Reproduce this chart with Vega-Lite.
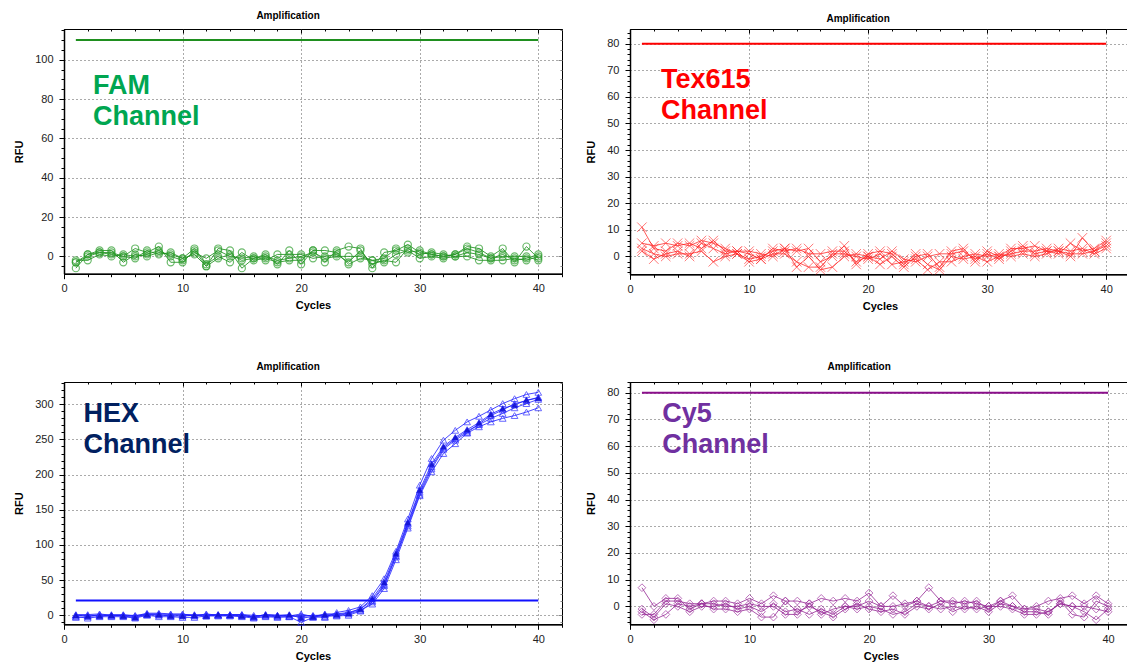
{
  "$schema": "https://vega.github.io/schema/vega-lite/v6.json",
  "padding": {"left": 13, "top": 10, "right": 0, "bottom": 0},
  "spacing": 49,
  "config": {
    "view": {"stroke": "#000", "strokeWidth": 1},
    "font": "Liberation Sans",
    "title": {"font": "Liberation Sans", "fontSize": 10, "fontWeight": "bold", "color": "#000", "offset": 8, "anchor": "middle", "frame": "bounds"},
    "axis": {
      "domainColor": "#000", "domainWidth": 1.5, "tickColor": "#000", "tickWidth": 1,
      "labelFont": "Liberation Sans", "labelColor": "#222", "format": "d",
      "titleFont": "Liberation Sans", "titleFontSize": 11, "titleFontWeight": "bold", "titleColor": "#000",
      "gridColor": "#555", "gridDash": [1, 3], "gridWidth": 1,
      "labelOverlap": false, "labelFlush": false, "labelBound": false
    },
    "axisX": {"labelPadding": 4, "titlePadding": 6},
    "axisY": {"labelPadding": 6, "titlePadding": 10}
  },
  "datasets": {
    "xv": [0,2,4,6,8,10,12,14,16,18,20,22,24,26,28,30,32,34,36,38,40,42],
    "fam": [
      {"c":1,"a":-3,"b":-6,"d":-2,"e":-3},
      {"c":2,"a":0,"b":1,"d":-2,"e":1},
      {"c":3,"a":2,"b":3,"d":1,"e":2},
      {"c":4,"a":2,"b":3,"d":0,"e":1},
      {"c":5,"a":0,"b":-3,"d":1,"e":0},
      {"c":6,"a":4,"b":1,"d":0,"e":-1},
      {"c":7,"a":2,"b":0,"d":1,"e":3},
      {"c":8,"a":5,"b":2,"d":3,"e":1},
      {"c":9,"a":-3,"b":1,"d":0,"e":2},
      {"c":10,"a":-3,"b":-1,"d":-2,"e":-1},
      {"c":11,"a":3,"b":4,"d":2,"e":1},
      {"c":12,"a":-5,"b":-4,"d":-1,"e":-5},
      {"c":13,"a":4,"b":0,"d":3,"e":-1},
      {"c":14,"a":3,"b":-3,"d":0,"e":1},
      {"c":15,"a":-6,"b":2,"d":-1,"e":-2},
      {"c":16,"a":-1,"b":-2,"d":0,"e":-1},
      {"c":17,"a":1,"b":-1,"d":-2,"e":0},
      {"c":18,"a":-4,"b":-3,"d":1,"e":-2},
      {"c":19,"a":3,"b":-2,"d":1,"e":-1},
      {"c":20,"a":-4,"b":-2,"d":1,"e":0},
      {"c":21,"a":3,"b":3,"d":-1,"e":2},
      {"c":22,"a":-3,"b":3,"d":0,"e":-1},
      {"c":23,"a":3,"b":2,"d":1,"e":0},
      {"c":24,"a":5,"b":-4,"d":-3,"e":0},
      {"c":25,"a":4,"b":-1,"d":3,"e":0},
      {"c":26,"a":-6,"b":-2,"d":-4,"e":-2},
      {"c":27,"a":2,"b":-3,"d":-2,"e":-1},
      {"c":28,"a":3,"b":1,"d":-3,"e":4},
      {"c":29,"a":6,"b":3,"d":4,"e":2},
      {"c":30,"a":2,"b":-1,"d":1,"e":3},
      {"c":31,"a":1,"b":0,"d":2,"e":1},
      {"c":32,"a":0,"b":-1,"d":1,"e":0},
      {"c":33,"a":1,"b":0,"d":0,"e":1},
      {"c":34,"a":5,"b":0,"d":2,"e":4},
      {"c":35,"a":4,"b":-2,"d":1,"e":2},
      {"c":36,"a":0,"b":-2,"d":-1,"e":-1},
      {"c":37,"a":4,"b":-2,"d":0,"e":1},
      {"c":38,"a":-3,"b":-1,"d":0,"e":-2},
      {"c":39,"a":5,"b":-2,"d":0,"e":-1},
      {"c":40,"a":-1,"b":0,"d":-2,"e":1}
    ],
    "tex": [
      {"c":1,"a":11,"b":5,"d":3,"e":2},
      {"c":2,"a":3,"b":4,"d":1,"e":-1},
      {"c":3,"a":2,"b":5,"d":0,"e":1},
      {"c":4,"a":5,"b":4,"d":1,"e":2},
      {"c":5,"a":4,"b":5,"d":1,"e":0},
      {"c":6,"a":6,"b":3,"d":2,"e":5},
      {"c":7,"a":5,"b":6,"d":-2,"e":3},
      {"c":8,"a":3,"b":2,"d":0,"e":1},
      {"c":9,"a":1,"b":2,"d":1,"e":2},
      {"c":10,"a":-1,"b":1,"d":-2,"e":2},
      {"c":11,"a":0,"b":-1,"d":-1,"e":1},
      {"c":12,"a":2,"b":3,"d":1,"e":0},
      {"c":13,"a":3,"b":2,"d":1,"e":3},
      {"c":14,"a":2,"b":3,"d":-2,"e":-4},
      {"c":15,"a":3,"b":1,"d":-4,"e":0},
      {"c":16,"a":-2,"b":1,"d":-4,"e":-5},
      {"c":17,"a":0,"b":2,"d":1,"e":-4},
      {"c":18,"a":4,"b":2,"d":1,"e":0},
      {"c":19,"a":-3,"b":-2,"d":0,"e":1},
      {"c":20,"a":1,"b":0,"d":-1,"e":0},
      {"c":21,"a":2,"b":-1,"d":1,"e":-3},
      {"c":22,"a":1,"b":2,"d":-3,"e":0},
      {"c":23,"a":-3,"b":-1,"d":-2,"e":-4},
      {"c":24,"a":1,"b":-2,"d":-1,"e":0},
      {"c":25,"a":-3,"b":0,"d":-5,"e":1},
      {"c":26,"a":-5,"b":1,"d":-2,"e":-4},
      {"c":27,"a":0,"b":1,"d":-2,"e":2},
      {"c":28,"a":-1,"b":2,"d":0,"e":3},
      {"c":29,"a":0,"b":-1,"d":1,"e":-2},
      {"c":30,"a":-2,"b":1,"d":0,"e":2},
      {"c":31,"a":0,"b":-1,"d":1,"e":0},
      {"c":32,"a":1,"b":2,"d":0,"e":3},
      {"c":33,"a":2,"b":4,"d":1,"e":3},
      {"c":34,"a":2,"b":1,"d":0,"e":4},
      {"c":35,"a":3,"b":2,"d":1,"e":2},
      {"c":36,"a":2,"b":1,"d":3,"e":2},
      {"c":37,"a":0,"b":5,"d":2,"e":1},
      {"c":38,"a":7,"b":2,"d":3,"e":1},
      {"c":39,"a":2,"b":3,"d":1,"e":2},
      {"c":40,"a":4,"b":6,"d":3,"e":5}
    ],
    "hex": [
      {"c":1,"a":1,"b":-2,"d":0,"e":-3,"f":0},
      {"c":2,"a":1,"b":-4,"d":0,"e":-2,"f":-1},
      {"c":3,"a":2,"b":-2,"d":0,"e":1,"f":-1},
      {"c":4,"a":0,"b":-2,"d":1,"e":-1,"f":0},
      {"c":5,"a":0,"b":-2,"d":1,"e":0,"f":-1},
      {"c":6,"a":-2,"b":-4,"d":-1,"e":0,"f":-3},
      {"c":7,"a":2,"b":0,"d":3,"e":1,"f":1},
      {"c":8,"a":2,"b":-2,"d":3,"e":0,"f":1},
      {"c":9,"a":1,"b":-2,"d":2,"e":0,"f":-1},
      {"c":10,"a":0,"b":-3,"d":2,"e":1,"f":-1},
      {"c":11,"a":0,"b":-3,"d":-1,"e":1,"f":0},
      {"c":12,"a":1,"b":-1,"d":2,"e":0,"f":-1},
      {"c":13,"a":1,"b":-1,"d":0,"e":0,"f":1},
      {"c":14,"a":1,"b":-1,"d":0,"e":1,"f":0},
      {"c":15,"a":1,"b":-2,"d":0,"e":1,"f":-1},
      {"c":16,"a":-2,"b":-4,"d":-3,"e":0,"f":-2},
      {"c":17,"a":1,"b":-2,"d":0,"e":-1,"f":1},
      {"c":18,"a":0,"b":-3,"d":-1,"e":-2,"f":0},
      {"c":19,"a":-1,"b":-2,"d":0,"e":-2,"f":1},
      {"c":20,"a":2,"b":-10,"d":-2,"e":0,"f":-4},
      {"c":21,"a":-2,"b":-3,"d":0,"e":-1,"f":-2},
      {"c":22,"a":2,"b":-2,"d":0,"e":-3,"f":1},
      {"c":23,"a":2,"b":0,"d":-1,"e":4,"f":1},
      {"c":24,"a":4,"b":2,"d":0,"e":7,"f":3},
      {"c":25,"a":9,"b":7,"d":6,"e":12,"f":9},
      {"c":26,"a":21,"b":16,"d":19,"e":28,"f":24},
      {"c":27,"a":44,"b":38,"d":42,"e":52,"f":47},
      {"c":28,"a":85,"b":79,"d":83,"e":91,"f":88},
      {"c":29,"a":130,"b":124,"d":127,"e":137,"f":132},
      {"c":30,"a":175,"b":170,"d":172,"e":185,"f":178},
      {"c":31,"a":211,"b":204,"d":208,"e":223,"f":215},
      {"c":32,"a":238,"b":230,"d":236,"e":249,"f":240},
      {"c":33,"a":251,"b":244,"d":249,"e":263,"f":253},
      {"c":34,"a":262,"b":259,"d":260,"e":275,"f":264},
      {"c":35,"a":271,"b":268,"d":272,"e":283,"f":274},
      {"c":36,"a":280,"b":275,"d":284,"e":292,"f":286},
      {"c":37,"a":287,"b":280,"d":292,"e":301,"f":294},
      {"c":38,"a":295,"b":284,"d":301,"e":308,"f":299},
      {"c":39,"a":301,"b":289,"d":305,"e":314,"f":306},
      {"c":40,"a":307,"b":295,"d":310,"e":317,"f":309}
    ],
    "cy5": [
      {"c":1,"a":7,"b":-1,"d":-2,"e":-3},
      {"c":2,"a":0,"b":-4,"d":-5,"e":-3},
      {"c":3,"a":3,"b":1,"d":-3,"e":2},
      {"c":4,"a":3,"b":0,"d":1,"e":2},
      {"c":5,"a":-1,"b":-2,"d":0,"e":1},
      {"c":6,"a":1,"b":0,"d":1,"e":1},
      {"c":7,"a":2,"b":0,"d":-1,"e":1},
      {"c":8,"a":2,"b":1,"d":-1,"e":0},
      {"c":9,"a":1,"b":-1,"d":-2,"e":0},
      {"c":10,"a":3,"b":0,"d":-1,"e":1},
      {"c":11,"a":1,"b":-2,"d":-4,"e":0},
      {"c":12,"a":4,"b":1,"d":-4,"e":0},
      {"c":13,"a":2,"b":-2,"d":2,"e":-3},
      {"c":14,"a":2,"b":-1,"d":-2,"e":-3},
      {"c":15,"a":1,"b":-3,"d":0,"e":1},
      {"c":16,"a":3,"b":-1,"d":-2,"e":-3},
      {"c":17,"a":2,"b":-3,"d":-4,"e":-1},
      {"c":18,"a":3,"b":0,"d":-1,"e":0},
      {"c":19,"a":2,"b":-1,"d":1,"e":0},
      {"c":20,"a":5,"b":0,"d":-1,"e":2},
      {"c":21,"a":0,"b":-1,"d":-2,"e":0},
      {"c":22,"a":4,"b":-3,"d":-1,"e":0},
      {"c":23,"a":0,"b":-2,"d":-3,"e":1},
      {"c":24,"a":2,"b":1,"d":0,"e":2},
      {"c":25,"a":7,"b":0,"d":-1,"e":0},
      {"c":26,"a":2,"b":-1,"d":1,"e":2},
      {"c":27,"a":2,"b":0,"d":-2,"e":1},
      {"c":28,"a":1,"b":-1,"d":0,"e":2},
      {"c":29,"a":2,"b":0,"d":-1,"e":1},
      {"c":30,"a":-1,"b":-2,"d":0,"e":0},
      {"c":31,"a":2,"b":1,"d":0,"e":2},
      {"c":32,"a":4,"b":0,"d":-1,"e":0},
      {"c":33,"a":-1,"b":-2,"d":-3,"e":-1},
      {"c":34,"a":0,"b":-2,"d":-3,"e":-1},
      {"c":35,"a":2,"b":-3,"d":-2,"e":-2},
      {"c":36,"a":3,"b":2,"d":1,"e":1},
      {"c":37,"a":4,"b":-3,"d":0,"e":0},
      {"c":38,"a":1,"b":-4,"d":0,"e":-2},
      {"c":39,"a":4,"b":2,"d":-1,"e":-5},
      {"c":40,"a":1,"b":0,"d":-2,"e":-1}
    ],
    "thr": [
      {"ch":"FAM","start":1,"end":40,"t":110},
      {"ch":"Tex615","start":1,"end":40,"t":80},
      {"ch":"HEX","start":1,"end":40,"t":21},
      {"ch":"Cy5","start":1,"end":40,"t":80}
    ],
    "lab": [
      {"ch":"FAM","lines":["FAM","Channel"]},
      {"ch":"Tex615","lines":["Tex615","Channel"]},
      {"ch":"HEX","lines":["HEX","Channel"]},
      {"ch":"Cy5","lines":["Cy5","Channel"]}
    ]
  },
  "vconcat": [
    {
      "spacing": 22,
      "hconcat": [
        {
          "width": 498, "height": 244.7,
          "title": {"text": "Amplification", "offset": 8},
          "resolve": {"axis": {"x": "independent", "y": "independent"}},
          "layer": [
            {
              "data": {"name": "fam"},
              "transform": [{"fold": ["a","b","d","e"], "as": ["s","rfu"]}],
              "mark": {"type": "line", "color": "#1f8f1f", "strokeWidth": 1, "opacity": 0.85,
                       "point": {"shape": "circle", "filled": false, "size": 50, "strokeWidth": 1.2, "color": "#2e9e2e", "opacity": 0.7}},
              "encoding": {
                "x": {"field": "c", "type": "quantitative", "title": "Cycles",
                      "scale": {"domain": [0, 42], "nice": false, "zero": false},
                      "axis": {"values": [0,2,4,6,8,10,12,14,16,18,20,22,24,26,28,30,32,34,36,38,40,42], "tickCount": 100,
                               "labelExpr": "datum.value % 10 === 0 && datum.value <= 40 ? datum.label : ''",
                               "labelFontSize": {"condition": {"test": "datum.value % 10 === 0 && datum.value <= 40", "value": 11}, "value": 0},
                               "tickSize": {"condition": {"test": "datum.value % 10 === 0", "value": 5}, "value": 3},
                               "gridOpacity": {"condition": {"test": "datum.value % 10 === 0 && datum.value > 0 && datum.value <= 40", "value": 1}, "value": 0}}},
                "y": {"field": "rfu", "type": "quantitative", "title": "RFU",
                      "scale": {"domain": [-8.8, 115.6], "nice": false, "zero": false},
                      "axis": {"values": [-5,0,5,10,15,20,25,30,35,40,45,50,55,60,65,70,75,80,85,90,95,100,105,110,115], "tickCount": 100,
                               "labelExpr": "datum.value % 20 === 0 && datum.value >= 0 ? datum.label : ''",
                               "labelFontSize": {"condition": {"test": "datum.value % 20 === 0 && datum.value >= 0", "value": 11}, "value": 0},
                               "tickSize": {"condition": {"test": "datum.value % 20 === 0", "value": 5}, "value": 3},
                               "gridOpacity": {"condition": {"test": "datum.value % 20 === 0 && datum.value >= 0", "value": 1}, "value": 0}}},
                "detail": {"field": "s"}
              }
            },
            {
              "data": {"name": "thr"},
              "transform": [{"filter": "datum.ch === 'FAM'"}],
              "mark": {"type": "rule", "color": "#1f8f1f", "strokeWidth": 2},
              "encoding": {
                "x": {"field": "start", "type": "quantitative",
                      "axis": {"orient": "top", "title": null, "labels": false, "domain": false, "grid": false, "tickCount": 100,
                               "values": [0,2,4,6,8,10,12,14,16,18,20,22,24,26,28,30,32,34,36,38,40,42],
                               "tickSize": {"condition": {"test": "datum.value % 10 === 0", "value": -4}, "value": -2}}},
                "x2": {"field": "end"},
                "y": {"field": "t", "type": "quantitative",
                      "axis": {"orient": "right", "title": null, "labels": false, "domain": false, "grid": false, "tickCount": 100, "tickColor": "#888",
                               "values": [-5,0,5,10,15,20,25,30,35,40,45,50,55,60,65,70,75,80,85,90,95,100,105,110,115],
                               "tickSize": {"condition": {"test": "datum.value % 20 === 0", "value": -4}, "value": -2}}}
              }
            },
            {
              "data": {"name": "lab"},
              "transform": [{"filter": "datum.ch === 'FAM'"}],
              "mark": {"type": "text", "align": "left", "baseline": "alphabetic", "fontSize": 27, "fontWeight": "bold", "font": "Liberation Sans", "lineHeight": 31, "color": "#00a651"},
              "encoding": {"x": {"datum": 2.45, "axis": null}, "y": {"datum": 82.5, "axis": null}, "text": {"field": "lines"}}
            }
          ]
        },
        {
          "width": 500, "height": 245.3,
          "title": {"text": "Amplification", "offset": 5},
          "resolve": {"axis": {"x": "independent", "y": "independent"}},
          "layer": [
            {
              "data": {"name": "tex"},
              "transform": [{"fold": ["a","b","d","e"], "as": ["s","rfu"]}],
              "mark": {"type": "line", "color": "#ff2020", "strokeWidth": 1, "opacity": 0.75,
                       "point": {"shape": "M-1,-1L1,1M-1,1L1,-1", "filled": false, "size": 90, "strokeWidth": 1, "color": "#ff2020", "opacity": 0.6}},
              "encoding": {
                "x": {"field": "c", "type": "quantitative", "title": "Cycles",
                      "scale": {"domain": [0, 42], "nice": false, "zero": false},
                      "axis": {"values": [0,2,4,6,8,10,12,14,16,18,20,22,24,26,28,30,32,34,36,38,40,42], "tickCount": 100,
                               "labelExpr": "datum.value % 10 === 0 && datum.value <= 40 ? datum.label : ''",
                               "labelFontSize": {"condition": {"test": "datum.value % 10 === 0 && datum.value <= 40", "value": 11}, "value": 0},
                               "tickSize": {"condition": {"test": "datum.value % 10 === 0", "value": 5}, "value": 3},
                               "gridOpacity": {"condition": {"test": "datum.value % 10 === 0 && datum.value > 0 && datum.value <= 40", "value": 1}, "value": 0}}},
                "y": {"field": "rfu", "type": "quantitative", "title": "RFU",
                      "scale": {"domain": [-6.7, 85.5], "nice": false, "zero": false},
                      "axis": {"values": [-6,-4,-2,0,2,4,6,8,10,12,14,16,18,20,22,24,26,28,30,32,34,36,38,40,42,44,46,48,50,52,54,56,58,60,62,64,66,68,70,72,74,76,78,80,82,84], "tickCount": 100,
                               "labelExpr": "datum.value % 10 === 0 && datum.value >= 0 ? datum.label : ''",
                               "labelFontSize": {"condition": {"test": "datum.value % 10 === 0 && datum.value >= 0", "value": 11}, "value": 0},
                               "tickSize": {"condition": {"test": "datum.value % 10 === 0", "value": 5}, "value": 3},
                               "gridOpacity": {"condition": {"test": "datum.value % 10 === 0 && datum.value >= 0", "value": 1}, "value": 0}}},
                "detail": {"field": "s"}
              }
            },
            {
              "data": {"name": "thr"},
              "transform": [{"filter": "datum.ch === 'Tex615'"}],
              "mark": {"type": "rule", "color": "#ff0000", "strokeWidth": 2},
              "encoding": {
                "x": {"field": "start", "type": "quantitative",
                      "axis": {"orient": "top", "title": null, "labels": false, "domain": false, "grid": false, "tickCount": 100,
                               "values": [0,2,4,6,8,10,12,14,16,18,20,22,24,26,28,30,32,34,36,38,40,42],
                               "tickSize": {"condition": {"test": "datum.value % 10 === 0", "value": -4}, "value": -2}}},
                "x2": {"field": "end"},
                "y": {"field": "t", "type": "quantitative", "axis": null}
              }
            },
            {
              "data": {"name": "lab"},
              "transform": [{"filter": "datum.ch === 'Tex615'"}],
              "mark": {"type": "text", "align": "left", "baseline": "alphabetic", "fontSize": 27, "fontWeight": "bold", "font": "Liberation Sans", "lineHeight": 31, "color": "#ff0000"},
              "encoding": {"x": {"datum": 2.6, "axis": null}, "y": {"datum": 63.3, "axis": null}, "text": {"field": "lines"}}
            }
          ]
        }
      ]
    },
    {
      "spacing": 22,
      "hconcat": [
        {
          "width": 498, "height": 242.3,
          "title": {"text": "Amplification", "offset": 9.5},
          "resolve": {"axis": {"x": "independent", "y": "independent"}},
          "layer": [
            {
              "data": {"name": "hex"},
              "transform": [{"fold": ["a","b","d","e","f"], "as": ["s","rfu"]}],
              "mark": {"type": "line", "color": "#1a1aff", "strokeWidth": 1, "opacity": 0.8,
                       "point": {"shape": "triangle-up", "filled": false, "size": 45, "strokeWidth": 1, "color": "#2a2aff", "opacity": 0.7}},
              "encoding": {
                "x": {"field": "c", "type": "quantitative", "title": "Cycles",
                      "scale": {"domain": [0, 42], "nice": false, "zero": false},
                      "axis": {"values": [0,2,4,6,8,10,12,14,16,18,20,22,24,26,28,30,32,34,36,38,40,42], "tickCount": 100,
                               "labelExpr": "datum.value % 10 === 0 && datum.value <= 40 ? datum.label : ''",
                               "labelFontSize": {"condition": {"test": "datum.value % 10 === 0 && datum.value <= 40", "value": 11}, "value": 0},
                               "tickSize": {"condition": {"test": "datum.value % 10 === 0", "value": 5}, "value": 3},
                               "gridOpacity": {"condition": {"test": "datum.value % 10 === 0 && datum.value > 0 && datum.value <= 40", "value": 1}, "value": 0}}},
                "y": {"field": "rfu", "type": "quantitative", "title": "RFU",
                      "scale": {"domain": [-12.8, 331.7], "nice": false, "zero": false},
                      "axis": {"values": [-10,0,10,20,30,40,50,60,70,80,90,100,110,120,130,140,150,160,170,180,190,200,210,220,230,240,250,260,270,280,290,300,310,320,330], "tickCount": 100,
                               "labelExpr": "datum.value % 50 === 0 && datum.value >= 0 ? datum.label : ''",
                               "labelFontSize": {"condition": {"test": "datum.value % 50 === 0 && datum.value >= 0", "value": 11}, "value": 0},
                               "tickSize": {"condition": {"test": "datum.value % 50 === 0", "value": 5}, "value": 3},
                               "gridOpacity": {"condition": {"test": "datum.value % 50 === 0 && datum.value >= 0", "value": 1}, "value": 0}}},
                "detail": {"field": "s"}
              }
            },
            {
              "data": {"name": "hex"},
              "mark": {"type": "point", "shape": "triangle-up", "filled": true, "size": 40, "color": "#1212d0", "opacity": 0.9},
              "encoding": {"x": {"field": "c", "type": "quantitative", "axis": null}, "y": {"field": "f", "type": "quantitative", "axis": null}}
            },
            {
              "data": {"name": "thr"},
              "transform": [{"filter": "datum.ch === 'HEX'"}],
              "mark": {"type": "rule", "color": "#1010ff", "strokeWidth": 2},
              "encoding": {
                "x": {"field": "start", "type": "quantitative",
                      "axis": {"orient": "top", "title": null, "labels": false, "domain": false, "grid": false, "tickCount": 100,
                               "values": [0,2,4,6,8,10,12,14,16,18,20,22,24,26,28,30,32,34,36,38,40,42],
                               "tickSize": {"condition": {"test": "datum.value % 10 === 0", "value": -4}, "value": -2}}},
                "x2": {"field": "end"},
                "y": {"field": "t", "type": "quantitative",
                      "axis": {"orient": "right", "title": null, "labels": false, "domain": false, "grid": false, "tickCount": 100, "tickColor": "#888",
                               "values": [-10,0,10,20,30,40,50,60,70,80,90,100,110,120,130,140,150,160,170,180,190,200,210,220,230,240,250,260,270,280,290,300,310,320,330],
                               "tickSize": {"condition": {"test": "datum.value % 50 === 0", "value": -4}, "value": -2}}}
              }
            },
            {
              "data": {"name": "lab"},
              "transform": [{"filter": "datum.ch === 'HEX'"}],
              "mark": {"type": "text", "align": "left", "baseline": "alphabetic", "fontSize": 27, "fontWeight": "bold", "font": "Liberation Sans", "lineHeight": 31, "color": "#002060"},
              "encoding": {"x": {"datum": 1.64, "axis": null}, "y": {"datum": 274.8, "axis": null}, "text": {"field": "lines"}}
            }
          ]
        },
        {
          "width": 502, "height": 242.3,
          "title": {"text": "Amplification", "offset": 9.5},
          "resolve": {"axis": {"x": "independent", "y": "independent"}},
          "layer": [
            {
              "data": {"name": "cy5"},
              "transform": [{"fold": ["a","b","d","e"], "as": ["s","rfu"]}],
              "mark": {"type": "line", "color": "#8e1a8e", "strokeWidth": 1, "opacity": 0.75,
                       "point": {"shape": "diamond", "filled": false, "size": 60, "strokeWidth": 1, "color": "#9a2a9a", "opacity": 0.65}},
              "encoding": {
                "x": {"field": "c", "type": "quantitative", "title": "Cycles",
                      "scale": {"domain": [0, 42], "nice": false, "zero": false},
                      "axis": {"values": [0,2,4,6,8,10,12,14,16,18,20,22,24,26,28,30,32,34,36,38,40,42], "tickCount": 100,
                               "labelExpr": "datum.value % 10 === 0 && datum.value <= 40 ? datum.label : ''",
                               "labelFontSize": {"condition": {"test": "datum.value % 10 === 0 && datum.value <= 40", "value": 11}, "value": 0},
                               "tickSize": {"condition": {"test": "datum.value % 10 === 0", "value": 5}, "value": 3},
                               "gridOpacity": {"condition": {"test": "datum.value % 10 === 0 && datum.value > 0 && datum.value <= 40", "value": 1}, "value": 0}}},
                "y": {"field": "rfu", "type": "quantitative", "title": "RFU",
                      "scale": {"domain": [-6.7, 84], "nice": false, "zero": false},
                      "axis": {"values": [-6,-4,-2,0,2,4,6,8,10,12,14,16,18,20,22,24,26,28,30,32,34,36,38,40,42,44,46,48,50,52,54,56,58,60,62,64,66,68,70,72,74,76,78,80,82,84], "tickCount": 100,
                               "labelExpr": "datum.value % 10 === 0 && datum.value >= 0 ? datum.label : ''",
                               "labelFontSize": {"condition": {"test": "datum.value % 10 === 0 && datum.value >= 0", "value": 11}, "value": 0},
                               "tickSize": {"condition": {"test": "datum.value % 10 === 0", "value": 5}, "value": 3},
                               "gridOpacity": {"condition": {"test": "datum.value % 10 === 0 && datum.value >= 0", "value": 1}, "value": 0}}},
                "detail": {"field": "s"}
              }
            },
            {
              "data": {"name": "thr"},
              "transform": [{"filter": "datum.ch === 'Cy5'"}],
              "mark": {"type": "rule", "color": "#8b0f8b", "strokeWidth": 2},
              "encoding": {
                "x": {"field": "start", "type": "quantitative",
                      "axis": {"orient": "top", "title": null, "labels": false, "domain": false, "grid": false, "tickCount": 100,
                               "values": [0,2,4,6,8,10,12,14,16,18,20,22,24,26,28,30,32,34,36,38,40,42],
                               "tickSize": {"condition": {"test": "datum.value % 10 === 0", "value": -4}, "value": -2}}},
                "x2": {"field": "end"},
                "y": {"field": "t", "type": "quantitative", "axis": null}
              }
            },
            {
              "data": {"name": "lab"},
              "transform": [{"filter": "datum.ch === 'Cy5'"}],
              "mark": {"type": "text", "align": "left", "baseline": "alphabetic", "fontSize": 27, "fontWeight": "bold", "font": "Liberation Sans", "lineHeight": 31, "color": "#7030a0"},
              "encoding": {"x": {"datum": 2.7, "axis": null}, "y": {"datum": 69.2, "axis": null}, "text": {"field": "lines"}}
            }
          ]
        }
      ]
    }
  ]
}
